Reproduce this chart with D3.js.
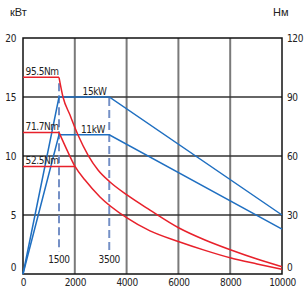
<!DOCTYPE html>
<html>
<head>
<meta charset="utf-8">
<script src="https://cdn.jsdelivr.net/npm/d3@7"></script>
<style>
  body { margin: 0; background: #fff; }
  svg text { font-family: "Liberation Sans Narrow", "DejaVu Sans Condensed", "Liberation Sans", sans-serif; font-size: 10px; letter-spacing: -0.4px; fill: #222; }
  .title { font-family: "Liberation Sans", Arial, sans-serif; font-size: 11px; letter-spacing: 0; }
</style>
</head>
<body>
<div id="chart"></div>
<script>
//Chart data
var rpmTicks = [0, 2000, 4000, 6000, 8000, 10000];
var kwTicks = [0, 5, 10, 15, 20];
var nmTicks = [0, 30, 60, 90, 120];

//Flat torque levels (Nm), where they end (rpm) and their labels
var torqueLevels = [100, 72, 54.7];
var torqueEnds = [1390, 1390, 2008];
var torqueLabels = ["95.5Nm", "71.7Nm", "52.5Nm"];

//Falling torque curves [rpm, Nm]
var torquePeak = [[1390,100],[1544,90],[1815,80.8],[2124,70.7],[2510,60.5],[2896,52.9],[3359,46.8],[4015,40.2],[4903,32.5],[6023,23.4],[7027,17.3],[8031,12.2],[9035,7.6],[10000,3.7]];
var torqueCont = [[1390,72],[1700,63],[2008,54.7],[2394,47.8],[2973,39.2],[4015,28.5],[4903,21.9],[6023,16.4],[7027,12],[8031,8.1],[9035,5.1],[10000,2.4]];

//Power curves [rpm, kW]
var power15 = [[0,0],[1390,15],[3330,15],[10000,5]];
var power11 = [[0,0],[1390,11.8],[3330,11.8],[10000,3.8]];
var powerLabels = ["15kW", "11kW"];

//Marked speeds
var markRpm = [1390, 3330];
var markLabels = ["1500", "3500"];

var w = 306, h = 300;
var padL = 23, padR = 282, padT = 38, padB = 274;

var svg = d3.select("#chart").append("svg")
  .attr("width", w)
  .attr("height", h);

//Scales
var xScale = d3.scaleLinear().domain([0, 10000]).range([padL, padR]);
var yKw = d3.scaleLinear().domain([0, 20]).range([padB, padT]);
var yNm = d3.scaleLinear().domain([0, 120]).range([padB, padT]);

//Grid
svg.append("g").selectAll("line")
  .data(rpmTicks.slice(1, -1))
  .enter().append("line")
  .attr("x1", function(d){ return xScale(d); })
  .attr("x2", function(d){ return xScale(d); })
  .attr("y1", padT).attr("y2", padB)
  .attr("stroke", "#7a7a7a").attr("stroke-width", 2);

svg.append("g").selectAll("line")
  .data(kwTicks.slice(1, -1))
  .enter().append("line")
  .attr("x1", padL).attr("x2", padR)
  .attr("y1", function(d){ return yKw(d); })
  .attr("y2", function(d){ return yKw(d); })
  .attr("stroke", "#333").attr("stroke-width", 1.5);

svg.append("rect")
  .attr("x", padL).attr("y", padT)
  .attr("width", padR - padL).attr("height", padB - padT)
  .attr("fill", "none").attr("stroke", "#111").attr("stroke-width", 1.5);

//Axes
var xAxis = d3.axisBottom(xScale).tickValues(rpmTicks).tickFormat(d3.format("d")).tickSize(0).tickPadding(5);
var yAxisL = d3.axisLeft(yKw).tickValues(kwTicks).tickFormat(d3.format("d")).tickSize(0).tickPadding(7);
var yAxisR = d3.axisRight(yNm).tickValues(nmTicks).tickFormat(d3.format("d")).tickSize(0).tickPadding(5);

svg.append("g").attr("class", "axis x")
  .attr("transform", "translate(0," + padB + ")")
  .call(xAxis);
svg.append("g").attr("class", "axis yl")
  .attr("transform", "translate(" + padL + ",0)")
  .call(yAxisL);
svg.append("g").attr("class", "axis yr")
  .attr("transform", "translate(" + padR + ",0)")
  .call(yAxisR);
svg.selectAll(".axis .domain").remove();
svg.selectAll(".axis").attr("font-family", null).attr("font-size", null);
svg.selectAll(".axis text").attr("fill", "#222");
//zero labels sit above the bottom edge
svg.selectAll(".yl .tick text, .yr .tick text")
  .filter(function(d){ return d === 0; })
  .attr("dy", "-0.4em");

svg.append("text").attr("class", "title").attr("x", 10).attr("y", 16).text("кВт");
svg.append("text").attr("class", "title").attr("x", 273).attr("y", 16).text("Нм");

//Dashed speed marks
svg.append("g").selectAll("line")
  .data(markRpm)
  .enter().append("line")
  .attr("x1", function(d){ return xScale(d); })
  .attr("x2", function(d){ return xScale(d); })
  .attr("y1", function(d, i){ return i === 0 ? yNm(97) : yKw(15) + 1; })
  .attr("y2", yKw(1.9))
  .attr("stroke", "#7590c6").attr("stroke-width", 2)
  .attr("stroke-dasharray", "8,4");

svg.append("g").selectAll("text")
  .data(markLabels)
  .enter().append("text")
  .attr("x", function(d, i){ return xScale(markRpm[i]); })
  .attr("y", yKw(0.95))
  .attr("text-anchor", "middle")
  .text(function(d){ return d; });

//Power lines
var powerLine = d3.line()
  .x(function(d){ return xScale(d[0]); })
  .y(function(d){ return yKw(d[1]); });

svg.append("g").selectAll("path")
  .data([power15, power11])
  .enter().append("path")
  .attr("d", powerLine)
  .attr("fill", "none").attr("stroke", "#1f6fc1").attr("stroke-width", 1.5);

svg.append("g").selectAll("text")
  .data(powerLabels)
  .enter().append("text")
  .attr("x", function(d, i){ return xScale(i === 0 ? 2300 : 2240); })
  .attr("y", function(d, i){ return yKw([power15, power11][i][1][1]) - 2; })
  .text(function(d){ return d; });

//Torque lines
var torqueLine = d3.line()
  .x(function(d){ return xScale(d[0]); })
  .y(function(d){ return yNm(d[1]); })
  .curve(d3.curveMonotoneX);

svg.append("g").selectAll("line")
  .data(torqueLevels)
  .enter().append("line")
  .attr("x1", xScale(0))
  .attr("x2", function(d, i){ return xScale(torqueEnds[i]); })
  .attr("y1", function(d){ return yNm(d); })
  .attr("y2", function(d){ return yNm(d); })
  .attr("stroke", "#e8212b").attr("stroke-width", 1.5);

svg.append("g").selectAll("path")
  .data([torquePeak, torqueCont])
  .enter().append("path")
  .attr("d", torqueLine)
  .attr("fill", "none").attr("stroke", "#e8212b").attr("stroke-width", 1.5);

svg.append("g").selectAll("text")
  .data(torqueLabels)
  .enter().append("text")
  .attr("x", xScale(100))
  .attr("y", function(d, i){ return yNm(torqueLevels[i]) - 2; })
  .text(function(d){ return d; })
  .attr("fill", "#222");
</script>
</body>
</html>
